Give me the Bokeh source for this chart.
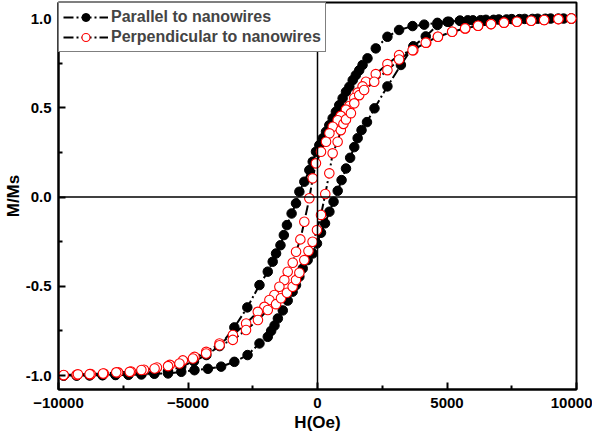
from bokeh.plotting import figure
from bokeh.models import Range1d, Span, Legend, LegendItem, FixedTicker, NumeralTickFormatter
from bokeh.embed import file_html
from bokeh.resources import INLINE

# Parallel to nanowires: descending branch (H from +max to -max)
par_down_h = [9800, 9300, 8800, 8300, 7800, 7300, 6800, 6300, 5800, 5500, 5080, 4630, 4120, 3670,
              3150, 2700, 2250, 1930, 1740, 1610, 1480, 1360, 1230, 1100, 970, 840, 710, 585, 456,
              328, 200, 71, -58, -185, -316, -509, -700, -830, -1000, -1180, -1300, -1430, -1600,
              -1730, -1920, -2240, -2710, -3210, -3780, -4290, -4770, -5260, -5770, -6300, -6800,
              -7300, -7800, -8300, -8800, -9300, -9800]
par_down_m = [1.0, 1.0, 0.999, 0.998, 0.997, 0.995, 0.993, 0.991, 0.99, 0.988, 0.982, 0.976, 0.966,
              0.958, 0.936, 0.898, 0.833, 0.777, 0.74, 0.71, 0.683, 0.655, 0.618, 0.59, 0.553, 0.515,
              0.478, 0.441, 0.403, 0.366, 0.329, 0.291, 0.254, 0.198, 0.151, 0.086, 0.03, -0.035,
              -0.092, -0.157, -0.213, -0.27, -0.316, -0.362, -0.418, -0.493, -0.618, -0.73, -0.835,
              -0.885, -0.92, -0.95, -0.975, -0.985, -0.99, -0.993, -0.995, -0.997, -0.998, -0.999, -1.0]
# Parallel: ascending branch
par_up_h = [-9800, -9300, -8800, -8300, -7800, -7300, -6800, -6300, -5770, -5260, -4750, -4230,
            -3720, -3210, -2700, -2240, -1920, -1790, -1660, -1530, -1340, -1150, -960, -830, -700,
            -570, -380, -185, -20, 135, 290, 460, 620, 780, 930, 1100, 1260, 1420, 1550, 1700, 1910,
            2200, 2700, 3220, 3700, 4180, 4630, 5020, 5500, 6000, 6500, 7000, 7500, 8000, 8500, 9000,
            9500, 9800]
par_up_m = [-1.0, -1.0, -0.999, -0.998, -0.997, -0.996, -0.994, -0.99, -0.988, -0.979, -0.97, -0.962,
            -0.95, -0.923, -0.885, -0.82, -0.783, -0.75, -0.72, -0.68, -0.635, -0.58, -0.53, -0.493,
            -0.446, -0.40, -0.353, -0.316, -0.26, -0.2, -0.147, -0.082, -0.026, 0.035, 0.095, 0.16,
            0.22, 0.28, 0.33, 0.375, 0.42, 0.497, 0.62, 0.74, 0.845, 0.90, 0.964, 0.982, 0.988, 0.99,
            0.993, 0.995, 0.997, 0.998, 0.999, 1.0, 1.0, 1.0]

# Perpendicular to nanowires: descending branch
perp_down_h = [9800, 9300, 8750, 8250, 7700, 7200, 6700, 6200, 5700, 5200, 4650, 4200, 3700, 3150,
               2700, 2250, 1870, 1740, 1550, 1420, 1230, 1100, 900, 780, 590, 460, 330, 135, -60,
               -185, -316, -509, -662, -828, -956, -1150, -1280, -1472, -1664, -1857, -2050, -2305,
               -2755, -3268, -3784, -4297, -4748, -5200, -5700, -6200, -6700, -7200, -7700, -8250,
               -8750, -9300, -9800]
perp_down_m = [1.0, 0.997, 0.992, 0.988, 0.982, 0.977, 0.969, 0.96, 0.945, 0.926, 0.898, 0.865,
               0.823, 0.795, 0.745, 0.689, 0.646, 0.62, 0.585, 0.555, 0.51, 0.49, 0.455, 0.43, 0.394,
               0.357, 0.31, 0.254, 0.189, 0.105, -0.007, -0.138, -0.237, -0.306, -0.368, -0.418,
               -0.465, -0.502, -0.549, -0.577, -0.615, -0.643, -0.708, -0.773, -0.82, -0.867, -0.895,
               -0.915, -0.94, -0.955, -0.967, -0.977, -0.982, -0.988, -0.992, -0.995, -0.998]
# Perpendicular: ascending branch
perp_up_h = [-9800, -9250, -8800, -8280, -7770, -7250, -6800, -6290, -5770, -5330, -4810, -4300,
             -3780, -3270, -2760, -2300, -1920, -1600, -1410, -1180, -960, -830, -700, -510, -350,
             -190, -20, 135, 300, 456, 585, 777, 900, 1000, 1100, 1290, 1420, 1610, 1800, 2190, 2700,
             3150, 3670, 4180, 4650, 5200, 5700, 6200, 6700, 7200, 7700, 8250, 8750, 9300, 9800]
perp_up_m = [-0.997, -0.993, -0.992, -0.988, -0.982, -0.979, -0.969, -0.96, -0.947, -0.932, -0.904,
             -0.876, -0.83, -0.80, -0.745, -0.689, -0.633, -0.60, -0.567, -0.536, -0.502, -0.465,
             -0.424, -0.353, -0.302, -0.25, -0.185, -0.10, 0.017, 0.133, 0.245, 0.31, 0.375, 0.41,
             0.435, 0.47, 0.525, 0.571, 0.60, 0.646, 0.711, 0.771, 0.823, 0.865, 0.898, 0.926, 0.945,
             0.96, 0.969, 0.977, 0.982, 0.988, 0.992, 0.997, 1.0]

x_ticks = [-10000, -5000, 0, 5000, 10000]
x_minor = [-7500, -2500, 2500, 7500]
y_ticks = [-1.0, -0.5, 0.0, 0.5, 1.0]
y_minor = [-0.75, -0.25, 0.25, 0.75]
labels = ["Parallel to nanowires", "Perpendicular to nanowires"]

FONT = "Liberation Sans"

p = figure(width=592, height=435, output_backend="svg", toolbar_location=None,
           x_range=Range1d(-10000, 10000), y_range=Range1d(-1.078, 1.09),
           min_border_left=57, min_border_right=16, min_border_top=2, min_border_bottom=46)
p.background_fill_color = "white"
p.border_fill_color = "white"
p.xgrid.visible = False
p.ygrid.visible = False
p.outline_line_color = "black"
p.outline_line_width = 2
p.outline_line_alpha = 1

for ax in (p.xaxis[0], p.yaxis[0]):
    ax.axis_line_width = 2
    ax.axis_line_color = "black"
    ax.major_tick_in = 7
    ax.major_tick_out = 0
    ax.minor_tick_in = 4
    ax.minor_tick_out = 0
    ax.major_tick_line_width = 2
    ax.minor_tick_line_width = 2
    ax.major_label_text_font = FONT
    ax.major_label_text_font_style = "bold"
    ax.major_label_text_font_size = "15px"
    ax.major_label_text_color = "black"
    ax.axis_label_text_font = FONT
    ax.axis_label_text_font_style = "bold"
    ax.axis_label_text_font_size = "17px"
    ax.axis_label_text_color = "black"

p.xaxis.ticker = FixedTicker(ticks=x_ticks, minor_ticks=x_minor)
p.yaxis.ticker = FixedTicker(ticks=y_ticks, minor_ticks=y_minor)
p.yaxis.formatter = NumeralTickFormatter(format="0.0")
p.xaxis.axis_label = "H(Oe)"
p.yaxis.axis_label = "M/Ms"
p.xaxis.major_label_standoff = 8
p.yaxis.major_label_standoff = 7
p.xaxis.axis_label_standoff = 2
p.yaxis.axis_label_standoff = 0

p.add_layout(Span(location=0, dimension="height", line_color="black", line_width=1.5))
p.add_layout(Span(location=0, dimension="width", line_color="black", line_width=1.5))

par_h = par_down_h + par_up_h
par_m = par_down_m + par_up_m
perp_h = perp_down_h + perp_up_h
perp_m = perp_down_m + perp_up_m

DASH = "10 3 2 3"
l1 = p.line(par_h, par_m, line_color="black", line_width=2, line_dash=DASH)
s1 = p.scatter(par_h, par_m, marker="circle", size=9.5, fill_color="black", line_color="black")
l2 = p.line(perp_h, perp_m, line_color="black", line_width=2, line_dash=DASH)
s2 = p.scatter(perp_h, perp_m, marker="circle", size=9.5, fill_color="white", line_color="red",
               line_width=1.1)

legend = Legend(items=[LegendItem(label=labels[0], renderers=[l1, s1]),
                       LegendItem(label=labels[1], renderers=[l2, s2])],
                location="top_left", margin=0, padding=4, spacing=0,
                glyph_width=45, label_standoff=3,
                label_text_font=FONT, label_text_font_style="bold", label_text_font_size="16px",
                border_line_color="black", border_line_width=1.5,
                background_fill_color="white", background_fill_alpha=1)
p.add_layout(legend)

open("out.html", "w").write(file_html(p, INLINE))
